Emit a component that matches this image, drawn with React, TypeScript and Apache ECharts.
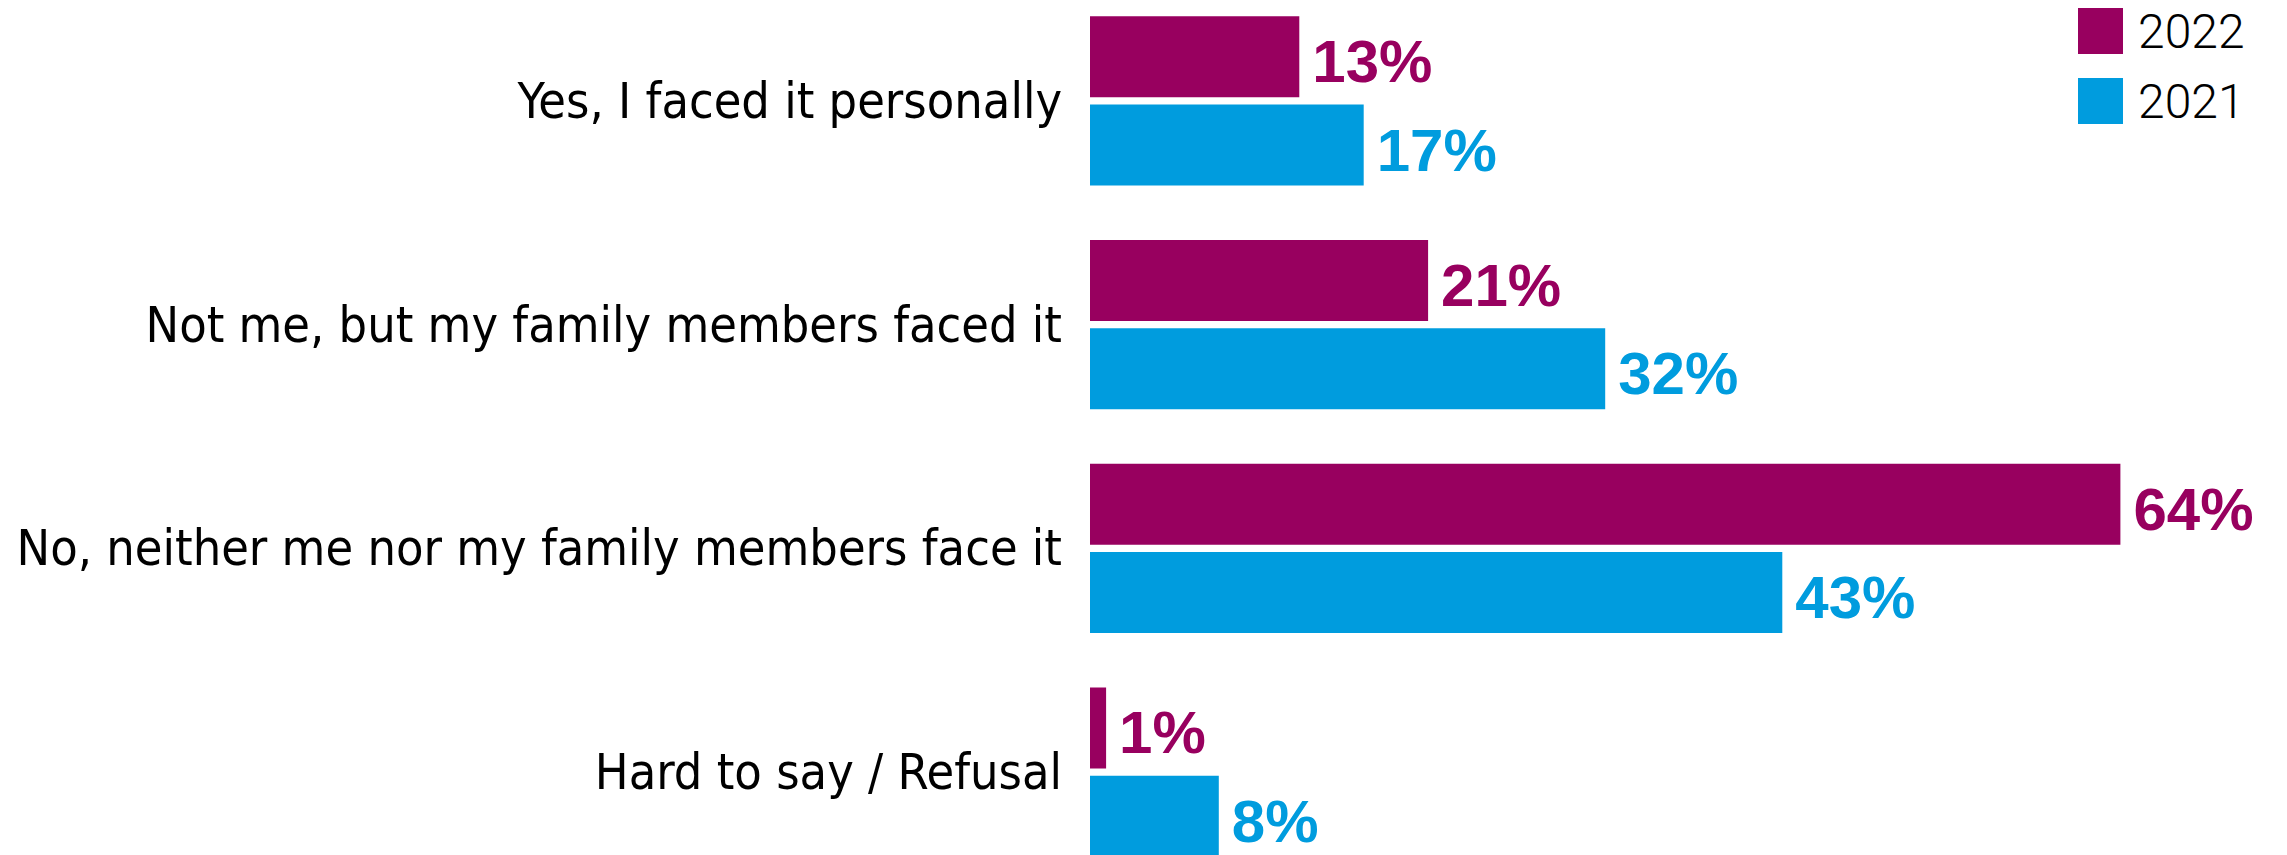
import React, { useEffect, useRef } from "react";
import * as echarts from "echarts";

const categories = [
  "Yes, I faced it personally",
  "Not me, but my family members faced it",
  "No, neither me nor my family members face it",
  "Hard to say / Refusal",
];
const values2022 = [13, 21, 64, 1];
const values2021 = [17, 32, 43, 8];
const seriesNames = ["2022", "2021"];
const colors = ["#98005F", "#009CDE"];

export default function App() {
  const ref = useRef<HTMLDivElement>(null);
  useEffect(() => {
    if (!ref.current) return;
    const chart = echarts.init(ref.current, undefined, { renderer: "svg" });
    const labelStyle = (color: string) => ({
      show: true,
      position: "right",
      distance: 13,
      offset: [0, 5],
      formatter: "{c}%",
      color,
      fontFamily: "'Liberation Sans', Arial, sans-serif",
      fontWeight: "bold",
      fontSize: 60,
    });
    chart.setOption({
      animation: false,
      backgroundColor: "#ffffff",
      legend: {
        orient: "vertical",
        left: 2073,
        top: 2,
        icon: "rect",
        itemWidth: 45,
        itemHeight: 46,
        itemGap: 22,
        data: seriesNames,
        textStyle: {
          fontFamily: "Roboto, sans-serif",
          fontWeight: 300,
          fontSize: 48,
          color: "#000",
          padding: [0, 0, 0, 10],
        },
      },
      grid: {
        left: 1090,
        top: -11,
        width: 1030.4,
        height: 895,
        containLabel: false,
        outerBoundsMode: "none",
      },
      xAxis: {
        type: "value",
        min: 0,
        max: 64,
        show: false,
        splitLine: { show: false },
      },
      yAxis: {
        type: "category",
        inverse: true,
        data: categories,
        axisLine: { show: false },
        axisTick: { show: false },
        axisLabel: {
          margin: 28,
          color: "#000",
          fontFamily: "'Liberation Sans Narrow', 'DejaVu Sans Condensed', sans-serif",
          fontSize: 50,
        },
      },
      series: [
        {
          name: seriesNames[0],
          type: "bar",
          data: values2022,
          barWidth: 81,
          barGap: "9%",
          itemStyle: { color: colors[0] },
          label: labelStyle(colors[0]),
        },
        {
          name: seriesNames[1],
          type: "bar",
          data: values2021,
          barWidth: 81,
          barGap: "9%",
          itemStyle: { color: colors[1] },
          label: labelStyle(colors[1]),
        },
      ],
    });
    return () => chart.dispose();
  }, []);
  return (
    <div
      ref={ref}
      style={{ position: "fixed", left: 0, top: 0, width: 2287, height: 855 }}
    />
  );
}
